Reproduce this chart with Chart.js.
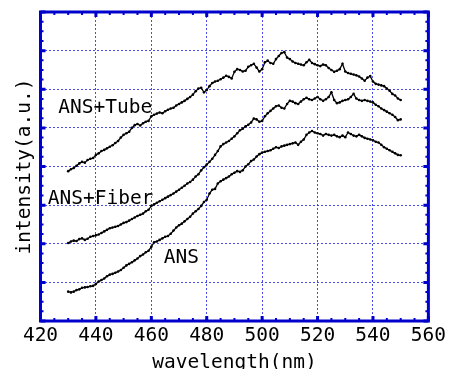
<!DOCTYPE html>
<html>
<head>
<meta charset="utf-8">
<script src="https://cdn.jsdelivr.net/npm/chart.js@4.4.1/dist/chart.umd.min.js"></script>
<style>
  html, body { margin: 0; padding: 0; background: #fff; }
  canvas { display: block; }
</style>
</head>
<body>
<canvas id="spectra" width="449" height="369"></canvas>
<script>
// wavelength samples (nm)
const wavelengths = [
    430, 431, 432, 433, 434, 435, 436, 437, 438, 439,
    440, 441, 442, 443, 444, 445, 446, 447, 448, 449,
    450, 451, 452, 453, 454, 455, 456, 457, 458, 459,
    460, 461, 462, 463, 464, 465, 466, 467, 468, 469,
    470, 471, 472, 473, 474, 475, 476, 477, 478, 479,
    480, 481, 482, 483, 484, 485, 486, 487, 488, 489,
    490, 491, 492, 493, 494, 495, 496, 497, 498, 499,
    500, 501, 502, 503, 504, 505, 506, 507, 508, 509,
    510, 511, 512, 513, 514, 515, 516, 517, 518, 519,
    520, 521, 522, 523, 524, 525, 526, 527, 528, 529,
    530, 531, 532, 533, 534, 535, 536, 537, 538, 539,
    540, 541, 542, 543, 544, 545, 546, 547, 548, 549,
    550
];

// intensity (a.u.)
const ansTube = [
    3.88, 3.93, 3.96, 4.02, 4.08, 4.12, 4.10, 4.17, 4.20, 4.22,
    4.30, 4.34, 4.40, 4.43, 4.47, 4.51, 4.55, 4.61, 4.66, 4.75,
    4.82, 4.86, 4.90, 5.00, 5.07, 5.10, 5.06, 5.12, 5.16, 5.18,
    5.30, 5.34, 5.37, 5.40, 5.38, 5.43, 5.47, 5.50, 5.52, 5.58,
    5.62, 5.66, 5.70, 5.75, 5.80, 5.86, 5.95, 6.02, 6.04, 5.92,
    5.98, 6.08, 6.16, 6.20, 6.22, 6.26, 6.30, 6.35, 6.32, 6.28,
    6.45, 6.52, 6.50, 6.46, 6.48, 6.58, 6.62, 6.66, 6.56, 6.46,
    6.52, 6.70, 6.74, 6.68, 6.66, 6.78, 6.86, 6.94, 6.96, 6.82,
    6.78, 6.72, 6.68, 6.66, 6.64, 6.62, 6.70, 6.76, 6.68, 6.65,
    6.62, 6.60, 6.64, 6.62, 6.55, 6.50, 6.45, 6.48, 6.52, 6.66,
    6.46, 6.42, 6.40, 6.38, 6.36, 6.33, 6.28, 6.22, 6.30, 6.34,
    6.20, 6.14, 6.12, 6.10, 6.08, 6.02, 5.96, 5.88, 5.84, 5.76,
    5.72
];

const ansFiber = [
    2.02, 2.06, 2.08, 2.07, 2.12, 2.14, 2.10, 2.13, 2.18, 2.20,
    2.22, 2.24, 2.28, 2.32, 2.36, 2.40, 2.42, 2.44, 2.46, 2.50,
    2.54, 2.56, 2.60, 2.64, 2.68, 2.72, 2.75, 2.78, 2.84, 2.88,
    2.98, 3.02, 3.06, 3.10, 3.14, 3.18, 3.22, 3.26, 3.30, 3.35,
    3.40, 3.45, 3.50, 3.56, 3.60, 3.66, 3.74, 3.80, 3.90, 3.98,
    4.05, 4.12, 4.20, 4.30, 4.40, 4.52, 4.58, 4.62, 4.66, 4.72,
    4.78, 4.86, 4.94, 4.98, 5.04, 5.08, 5.14, 5.24, 5.22, 5.16,
    5.18, 5.30, 5.38, 5.44, 5.50, 5.56, 5.58, 5.52, 5.50, 5.62,
    5.70, 5.68, 5.64, 5.62, 5.68, 5.74, 5.78, 5.74, 5.72, 5.76,
    5.80, 5.74, 5.70, 5.74, 5.80, 5.92, 5.72, 5.64, 5.66, 5.70,
    5.72, 5.74, 5.80, 5.88, 5.76, 5.72, 5.70, 5.72, 5.70, 5.68,
    5.66, 5.60, 5.56, 5.50, 5.46, 5.42, 5.38, 5.34, 5.28, 5.20,
    5.22
];

const ans = [
    0.76, 0.74, 0.76, 0.80, 0.82, 0.86, 0.87, 0.88, 0.90, 0.91,
    0.96, 1.02, 1.06, 1.10, 1.16, 1.20, 1.22, 1.25, 1.28, 1.32,
    1.38, 1.44, 1.48, 1.52, 1.57, 1.62, 1.68, 1.72, 1.78, 1.82,
    1.92, 2.04, 2.06, 2.10, 2.14, 2.18, 2.20, 2.26, 2.34, 2.42,
    2.48, 2.52, 2.58, 2.64, 2.70, 2.78, 2.84, 2.90, 2.98, 3.08,
    3.14, 3.30, 3.40, 3.42, 3.56, 3.62, 3.66, 3.70, 3.74, 3.80,
    3.84, 3.88, 3.86, 3.90, 4.00, 4.06, 4.14, 4.18, 4.26, 4.32,
    4.36, 4.38, 4.40, 4.42, 4.46, 4.50, 4.48, 4.52, 4.54, 4.56,
    4.58, 4.60, 4.62, 4.56, 4.64, 4.70, 4.82, 4.88, 4.92, 4.88,
    4.86, 4.84, 4.80, 4.84, 4.82, 4.80, 4.82, 4.78, 4.76, 4.80,
    4.76, 4.88, 4.84, 4.80, 4.78, 4.82, 4.78, 4.74, 4.72, 4.70,
    4.68, 4.64, 4.62, 4.56, 4.50, 4.46, 4.42, 4.38, 4.34, 4.30,
    4.29
];

const wavelengthTicks = [420, 440, 460, 480, 500, 520, 540, 560];

// curve names and where they sit (data units: nm, a.u.)
const curveLabels = ['ANS+Tube', 'ANS+Fiber', 'ANS'];
const curveLabelAt = [[426.4, 5.39], [422.6, 3.03], [464.5, 1.50]];

const FRAME_BLUE = '#0000cc';
const GRID_BLUE = 'rgba(30, 30, 230, 0.8)';
const FONT = "'DejaVu Sans Mono', monospace";

function toPoints(values) {
    return values.map((v, i) => ({ x: wavelengths[i], y: v }));
}

function curve(label, values) {
    return {
        label: label,
        data: toPoints(values),
        showLine: true,
        borderColor: '#000',
        borderWidth: 1.3,
        backgroundColor: '#000',
        pointRadius: 1.3,
        pointBorderWidth: 0,
        tension: 0
    };
}

// blue frame with inward ticks on all four sides, plus curve names
const frameAndLabels = {
    id: 'frameAndLabels',
    afterDraw(chart) {
        const { ctx, chartArea: a, scales: { x, y } } = chart;
        ctx.save();
        ctx.strokeStyle = FRAME_BLUE;

        // minor ticks
        ctx.lineWidth = 2;
        ctx.beginPath();
        for (let v = 420; v <= 560; v += 5) {
            const px = x.getPixelForValue(v);
            ctx.moveTo(px, a.bottom); ctx.lineTo(px, a.bottom - 3);
            ctx.moveTo(px, a.top); ctx.lineTo(px, a.top + 3);
        }
        for (let v = 0; v <= 8; v += 0.25) {
            const py = y.getPixelForValue(v);
            ctx.moveTo(a.left, py); ctx.lineTo(a.left + 3, py);
            ctx.moveTo(a.right, py); ctx.lineTo(a.right - 3, py);
        }
        ctx.stroke();

        // major ticks
        ctx.lineWidth = 3;
        ctx.beginPath();
        wavelengthTicks.forEach(v => {
            const px = x.getPixelForValue(v);
            ctx.moveTo(px, a.bottom); ctx.lineTo(px, a.bottom - 5);
            ctx.moveTo(px, a.top); ctx.lineTo(px, a.top + 5);
        });
        for (let v = 0; v <= 8; v += 1) {
            const py = y.getPixelForValue(v);
            ctx.moveTo(a.left, py); ctx.lineTo(a.left + 5, py);
            ctx.moveTo(a.right, py); ctx.lineTo(a.right - 5, py);
        }
        ctx.stroke();

        ctx.lineWidth = 3;
        ctx.strokeRect(a.left, a.top, a.right - a.left, a.bottom - a.top);

        ctx.fillStyle = '#000';
        ctx.font = '19.5px ' + FONT;
        ctx.textAlign = 'left';
        ctx.textBaseline = 'alphabetic';
        curveLabels.forEach((text, i) => {
            const [lx, ly] = curveLabelAt[i];
            ctx.fillText(text, x.getPixelForValue(lx), y.getPixelForValue(ly));
        });
        ctx.restore();
    }
};

new Chart(document.getElementById('spectra'), {
    type: 'scatter',
    data: {
        datasets: [
            curve('ANS+Tube', ansTube),
            curve('ANS+Fiber', ansFiber),
            curve('ANS', ans)
        ]
    },
    options: {
        responsive: false,
        animation: false,
        layout: { padding: { left: 0, right: 19.5, top: 12, bottom: 0 } },
        plugins: {
            legend: { display: false },
            tooltip: { enabled: false }
        },
        scales: {
            x: {
                type: 'linear',
                min: 420,
                max: 560,
                afterBuildTicks: scale => {
                    scale.ticks = wavelengthTicks.map(v => ({ value: v }));
                },
                afterFit: scale => { scale.height = 48; },
                ticks: {
                    color: '#000',
                    padding: 3,
                    font: { family: FONT, size: 19.5 }
                },
                grid: {
                    color: GRID_BLUE,
                    lineWidth: 1,
                    drawTicks: false
                },
                border: { display: false, dash: [2, 2] },
                title: {
                    display: true,
                    text: 'wavelength(nm)',
                    color: '#000',
                    padding: 0,
                    font: { family: FONT, size: 19.5, lineHeight: 0.66 }
                }
            },
            y: {
                min: 0,
                max: 8,
                afterFit: scale => { scale.width = 40.5; },
                ticks: { stepSize: 1, display: false },
                grid: {
                    color: GRID_BLUE,
                    lineWidth: 1,
                    drawTicks: false
                },
                border: { display: false, dash: [2, 2] },
                title: {
                    display: true,
                    text: 'intensity(a.u.)',
                    color: '#000',
                    padding: { top: 15, bottom: 0 },
                    font: { family: FONT, size: 19.5, lineHeight: 1 }
                }
            }
        }
    },
    plugins: [frameAndLabels]
});
</script>
</body>
</html>
